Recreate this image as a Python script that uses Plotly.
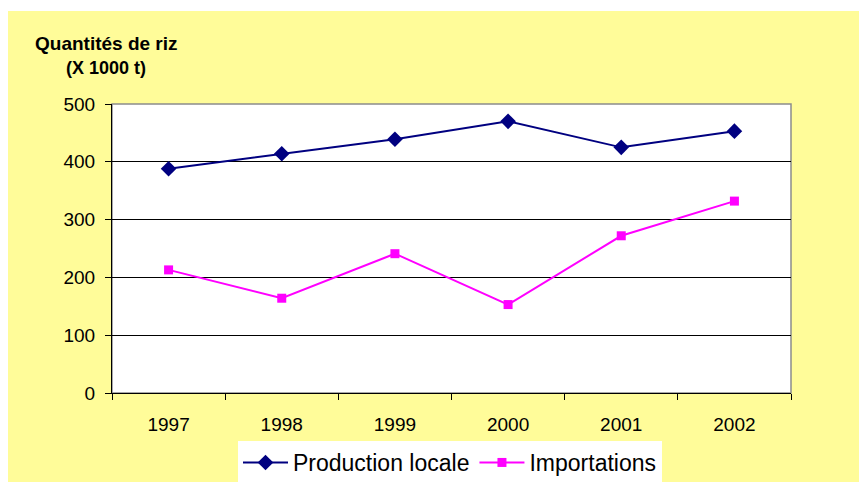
import plotly.graph_objects as go

# Rice quantities (thousands of tonnes)
years = ["1997", "1998", "1999", "2000", "2001", "2002"]
production_locale = [388, 414, 439, 470, 425, 453]
importations = [213, 164, 241, 153, 272, 332]
y_ticks = [0, 100, 200, 300, 400, 500]

W, H = 859, 482
L, R, T, B = 112, 68, 104, 89
PW, PH = W - L - R, H - T - B
YELLOW = "#FFFC99"


def px_x(x):
    return (x - L) / PW


def px_y(y):
    return (H - B - y) / PH


fig = go.Figure()
fig.add_trace(go.Scatter(
    x=years, y=production_locale, name="Production locale",
    mode="lines+markers",
    line=dict(color="#000080", width=2),
    marker=dict(symbol="diamond", size=12, color="#000080"),
))
fig.add_trace(go.Scatter(
    x=years, y=importations, name="Importations",
    mode="lines+markers",
    line=dict(color="#FF00FF", width=2),
    marker=dict(symbol="square", size=9, color="#FF00FF"),
))

shapes = [
    # white strips outside the yellow chart area (top and left)
    dict(type="rect", xref="paper", yref="paper",
         x0=px_x(-50), x1=px_x(W + 50), y0=px_y(11), y1=px_y(-50),
         fillcolor="white", line=dict(width=0), layer="below"),
    dict(type="rect", xref="paper", yref="paper",
         x0=px_x(-50), x1=px_x(8), y0=px_y(H + 50), y1=px_y(-50),
         fillcolor="white", line=dict(width=0), layer="below"),
    # plot area
    dict(type="rect", xref="paper", yref="paper", x0=0, x1=1, y0=0, y1=1,
         fillcolor="white", line=dict(color="#8C8C8C", width=1.5), layer="below"),
]

fig.update_layout(
    width=W, height=H,
    margin=dict(l=L, r=R, t=T, b=B, autoexpand=False),
    paper_bgcolor=YELLOW,
    plot_bgcolor="rgba(0,0,0,0)",
    font=dict(family="Arial, Liberation Sans, sans-serif", color="black"),
    shapes=shapes,
    showlegend=True,
    legend=dict(
        orientation="h", x=px_x(450), xanchor="center",
        yref="container", y=1 - 441 / H, yanchor="top",
        bgcolor="white", font=dict(size=23, color="black"),
        itemwidth=45, tracegroupgap=0,
    ),
    xaxis=dict(
        type="category", range=[-0.5, 5.5], automargin=False,
        showline=True, linecolor="black", linewidth=1,
        ticks="outside", tickson="boundaries", ticklen=6, tickcolor="black",
        ticklabelstandoff=14,
        showgrid=False, tickfont=dict(size=19), fixedrange=True,
    ),
    yaxis=dict(
        range=[0, 500], tickvals=y_ticks, automargin=False,
        showline=True, linecolor="black", linewidth=1,
        ticks="outside", ticklen=6, tickcolor="black",
        ticklabelstandoff=6,
        showgrid=True, gridcolor="black", gridwidth=1,
        zeroline=False, tickfont=dict(size=19), fixedrange=True,
    ),
    annotations=[
        dict(text="<b>Quantités de riz</b>", xref="paper", yref="paper",
             x=px_x(106.5), y=px_y(43),
             xanchor="center", yanchor="middle", showarrow=False,
             font=dict(size=19)),
        dict(text="<b>(X 1000 t)</b>", xref="paper", yref="paper",
             x=px_x(106), y=px_y(68),
             xanchor="center", yanchor="middle", showarrow=False,
             font=dict(size=18)),
    ],
)

fig.write_html(
    "out.html",
    post_script="document.body.style.margin='0';"
                "document.documentElement.style.overflow='hidden';"
                "document.documentElement.style.background='" + YELLOW + "';"
                "document.body.style.background='" + YELLOW + "';",
)
